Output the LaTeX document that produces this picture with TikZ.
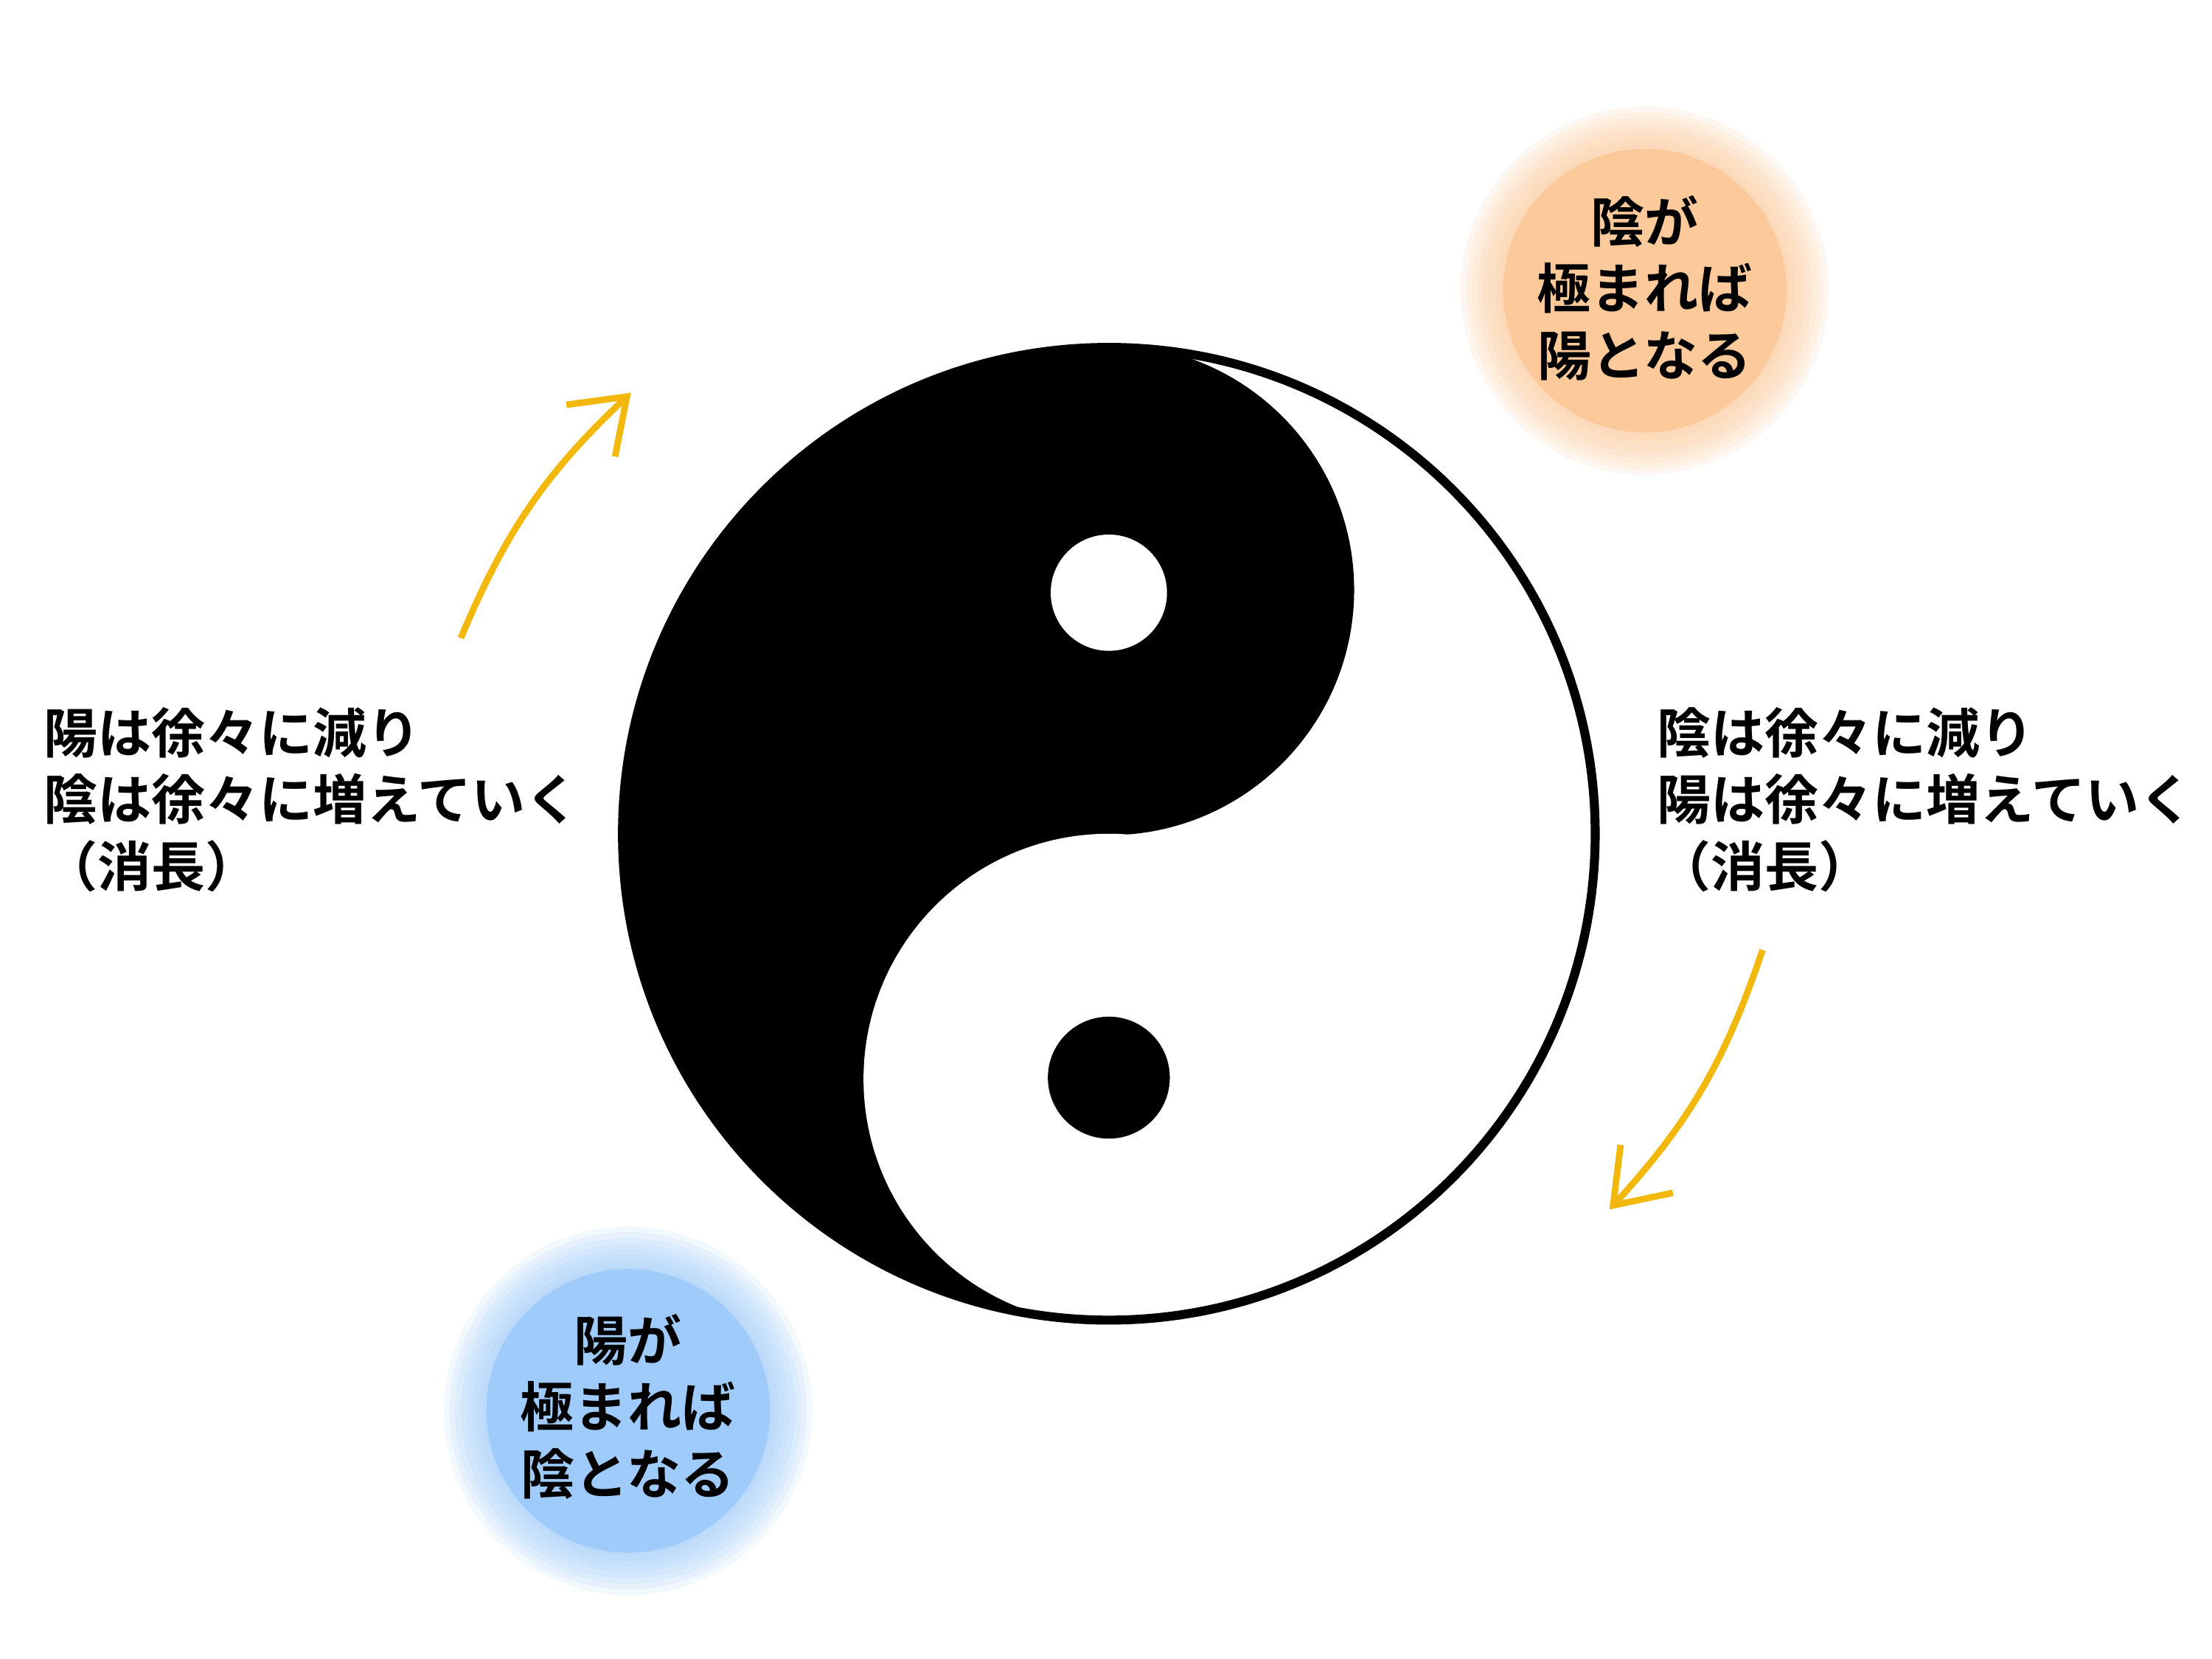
\documentclass[tikz,border=0pt]{standalone}
\usepackage{fontspec}
\setmainfont{Noto Sans CJK JP Bold}
\usetikzlibrary{arrows.meta}
\definecolor{arrowc}{HTML}{F2B90C}
\definecolor{yinc}{HTML}{FBC99A}
\definecolor{yangc}{HTML}{9ECBF9}
\begin{document}
\begin{tikzpicture}[x=0.01cm,y=-0.01cm]
\tikzstyle{txt}=[align=left,anchor=north west,inner sep=0pt,font=\fontsize{10.8}{13.4}\selectfont];
\tikzstyle{ctxt}=[align=center,inner sep=0pt,font=\fontsize{10.8}{13.4}\selectfont];
\tikzstyle{flow}=[arrowc,line width=1.3pt,-{Straight Barb[length=3.5mm,width=5mm]}];
\useasboundingbox (0,0) rectangle (1560,1170);
% soft discs
\foreach \r in {130,126,...,102} {
  \fill [yinc,opacity=0.14] (1160,205) circle (\r);
  \fill [yangc,opacity=0.14] (443,995) circle (\r);
}
\fill [yinc] (1160,205) circle (100);
\fill [yangc] (443,995) circle (100);
% taiji
\begin{scope}
\clip (400,0) rectangle (782,1170);
\fill (782,588) circle (345);
\end{scope}
\fill (782,416) circle (173);
\fill [white] (782,761) circle (173);
\fill [white] (782,418) circle (41);
\fill (782,760) circle (43);
\draw [line width=1.8pt] (782,588) circle (343);
% texts
\node [ctxt] (yin) at (1160,203) {陰が\\極まれば\\陽となる};
\node [ctxt] (yang) at (443,992) {陽が\\極まれば\\陰となる};
\node [txt] (left) at (30,498) {陽は徐々に減り\\陰は徐々に増えていく\\（消長）};
\node [txt] (right) at (1168,498) {陰は徐々に減り\\陽は徐々に増えていく\\（消長）};
% arrows
\coordinate (l1) at (325,450);
\coordinate (l2) at (445,277);
\coordinate (r1) at (1243,670);
\coordinate (r2) at (1135,853);
\draw [flow] (l1) to[bend left=12] (l2);
\draw [flow] (r1) to[bend left=12] (r2);
\end{tikzpicture}
\end{document}
